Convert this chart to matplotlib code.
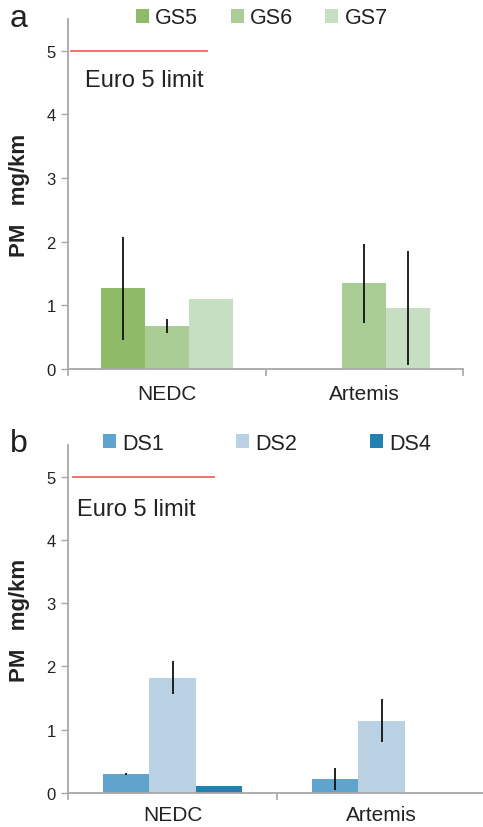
import numpy as np
import matplotlib
matplotlib.use("Agg")
import matplotlib.pyplot as plt
from matplotlib.patches import Patch

plt.rcParams['font.family'] = ['Liberation Sans', 'DejaVu Sans']

# ------------------------------
# Data
# ------------------------------
cycles = ["NEDC", "Artemis"]
euro5_limit = 5.0

gs_names = ["GS5", "GS6", "GS7"]
gs_values = [[1.27, np.nan], [0.68, 1.35], [1.10, 0.96]]
gs_errors = [[0.81, np.nan], [0.11, 0.62], [np.nan, 0.90]]
gs_colors = ["#8fbb69", "#a9cd94", "#c6dfc3"]

ds_names = ["DS1", "DS2", "DS4"]
ds_values = [[0.30, 0.22], [1.82, 1.14], [0.11, np.nan]]
ds_errors = [[0.02, 0.17], [0.26, 0.34], [np.nan, np.nan]]
ds_colors = ["#5fa4cd", "#bad1e4", "#2181b1"]

W, H = 483, 828
bar_w = 0.222
grey = "#a8a8a8"
txt = "#222222"


def draw_panel(rect, names, values, errors, colors, letter, letter_y,
               leg_x, leg_y, colspace, line_span, label_xy, xpad):
    ax = fig.add_axes(rect)
    x = np.arange(len(cycles))
    for i, (vals, errs, col) in enumerate(zip(values, errors, colors)):
        pos = x + (i - 1) * bar_w
        ax.bar(pos, vals, width=bar_w, color=col, linewidth=0, zorder=2)
        errs = np.array(errs)
        ok = ~np.isnan(errs)
        ax.errorbar(pos[ok], np.array(vals)[ok], yerr=errs[ok], fmt='none',
                    ecolor='#111111', elinewidth=1.3, capsize=0, zorder=3)

    ax.axhline(euro5_limit, xmin=line_span[0], xmax=line_span[1],
               color="#f26560", linewidth=1.3, zorder=3)
    ax.text(label_xy[0], label_xy[1], "Euro 5 limit", fontsize=17,
            color=txt, ha='left', va='baseline')

    ax.set_xlim(-0.5, len(cycles) - 0.5)
    ax.set_ylim(0, 5.5)
    ax.set_yticks(range(6))
    ax.tick_params(axis='y', length=5, width=1, color=grey, labelsize=12,
                   labelcolor=txt, pad=4)
    ax.set_xticks(np.arange(len(cycles) + 1) - 0.5)
    ax.set_xticklabels([])
    ax.tick_params(axis='x', which='major', length=5, width=1.2, color=grey)
    ax.set_xticks(x, minor=True)
    ax.set_xticklabels(cycles, minor=True)
    ax.tick_params(axis='x', which='minor', length=0, labelsize=15,
                   labelcolor=txt, pad=xpad)
    for s in ["top", "right"]:
        ax.spines[s].set_visible(False)
    for s in ["left", "bottom"]:
        ax.spines[s].set_color(grey)
        ax.spines[s].set_linewidth(1.3)
    ax.set_ylabel("PM   mg/km", fontsize=16, fontweight='bold', color=txt)
    ax.yaxis.set_label_coords(-38 / (rect[2] * W), 0.5)

    handles = [Patch(facecolor=c, edgecolor='none', label=n)
               for n, c in zip(names, colors)]
    fig.legend(handles=handles, loc='center left', ncol=3, frameon=False,
               bbox_to_anchor=(leg_x / W, 1 - leg_y / H), fontsize=15.5,
               handlelength=0.6, handleheight=0.6, handletextpad=0.3,
               columnspacing=colspace, borderpad=0, borderaxespad=0,
               labelcolor=txt)
    fig.text(10 / W, 1 - letter_y / H, letter, fontsize=23, color=txt,
             ha='left', va='baseline')
    return ax


fig = plt.figure(figsize=(W / 100, H / 100), dpi=100)

draw_panel([68 / W, 1 - 370 / H, 395 / W, 350 / H], gs_names, gs_values,
           gs_errors, gs_colors, "a", 27, 136, 19, 1.5, (0.008, 0.352),
           (-0.415, 4.45), 11)
draw_panel([68 / W, 1 - 794 / H, 418 / W, 348 / H], ds_names, ds_values,
           ds_errors, ds_colors, "b", 452, 103, 444, 3.35, (0.012, 0.349),
           (-0.458, 4.39), 9)

fig.savefig("out.png", dpi=100)
